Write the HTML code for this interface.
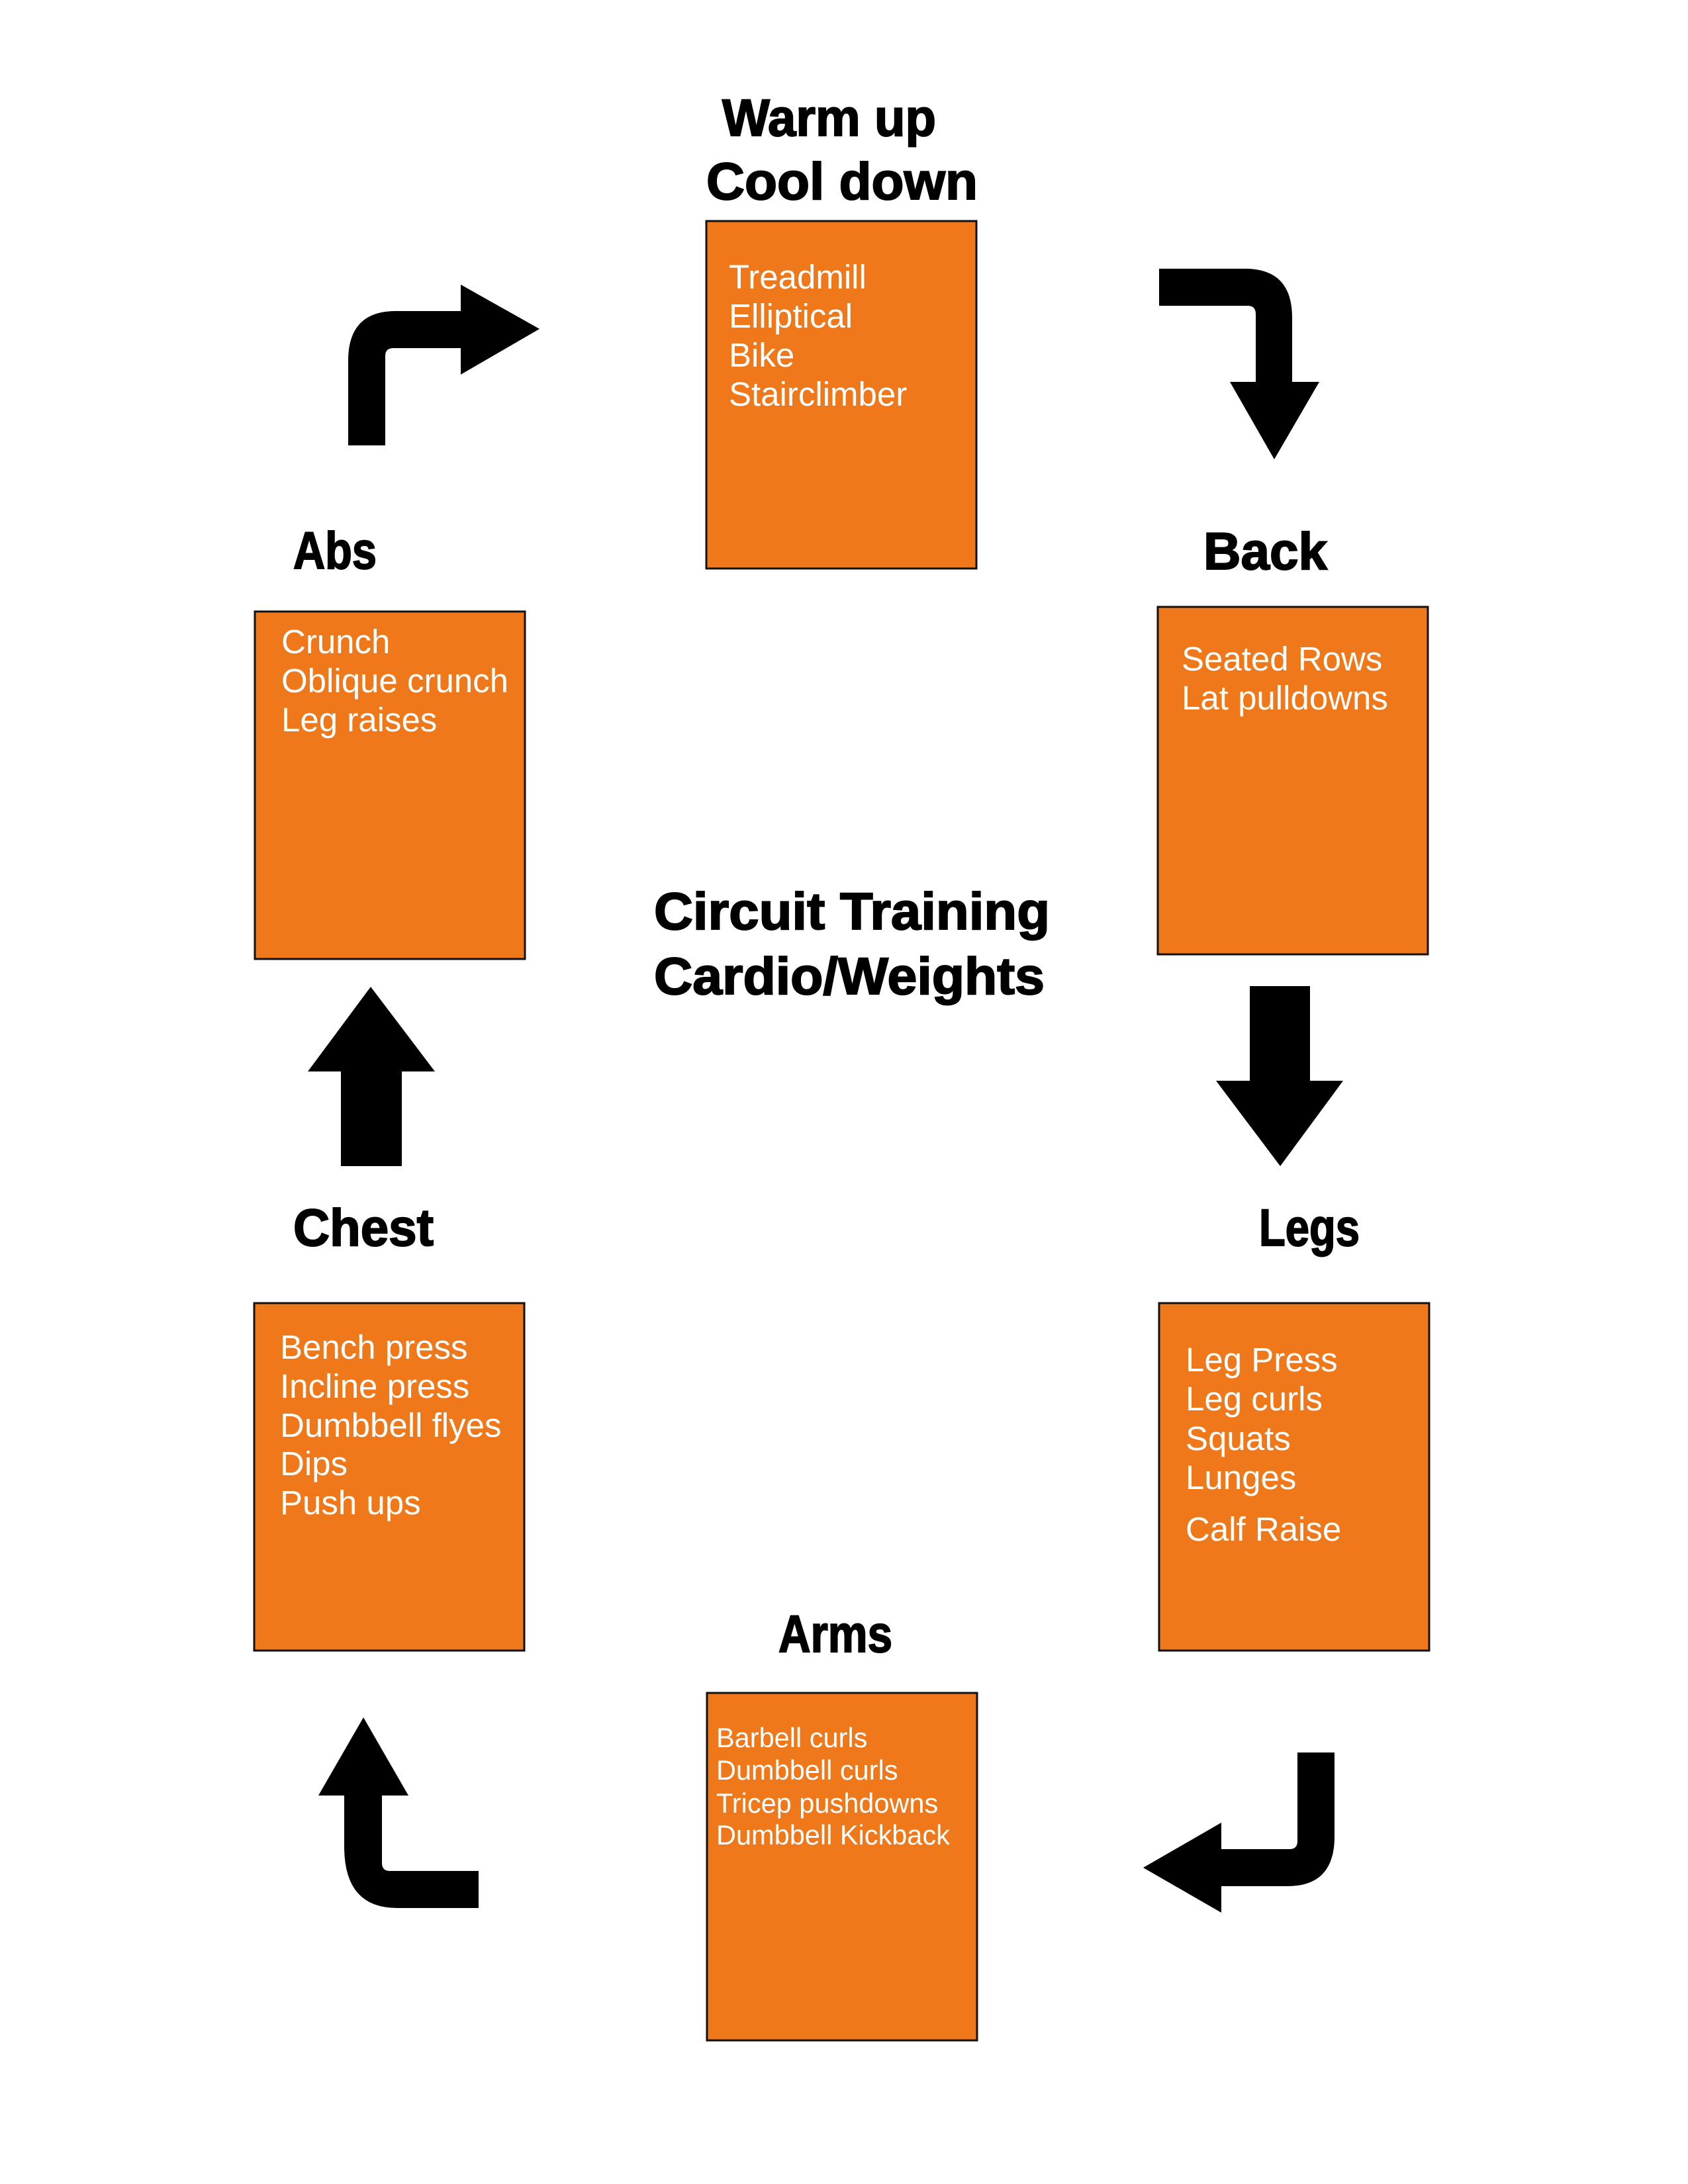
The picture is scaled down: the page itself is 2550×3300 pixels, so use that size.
<!DOCTYPE html>
<html><head><meta charset="utf-8"><style>
html,body{margin:0;padding:0;background:#fff;}
svg{display:block;}
.t{font-family:"Liberation Sans",Arial,sans-serif;font-weight:bold;font-size:79px;fill:#000;stroke:#000;stroke-width:2px;}
.b{font-family:"Liberation Sans",Arial,sans-serif;font-size:51px;fill:#fff;}
.s{font-family:"Liberation Sans",Arial,sans-serif;font-size:41.5px;fill:#fff;}
</style></head><body>
<svg width="2550" height="3300" viewBox="0 0 2550 3300" xmlns="http://www.w3.org/2000/svg">
<rect width="2550" height="3300" fill="#fff"/>
<g fill="#EF791A" stroke="#111" stroke-width="3">
<rect x="1067" y="334" width="408" height="525"/>
<rect x="385" y="924" width="408" height="525"/>
<rect x="1749" y="917" width="408" height="525"/>
<rect x="384" y="1969" width="408" height="525"/>
<rect x="1751" y="1969" width="408" height="525"/>
<rect x="1068" y="2558" width="408" height="525"/>
</g>
<g class="t">
<text x="1091" y="205" textLength="323" lengthAdjust="spacingAndGlyphs">Warm up</text>
<text x="1067" y="301" textLength="410" lengthAdjust="spacingAndGlyphs">Cool down</text>
<text x="443" y="859" textLength="126" lengthAdjust="spacingAndGlyphs">Abs</text>
<text x="1818" y="860" textLength="187" lengthAdjust="spacingAndGlyphs">Back</text>
<text x="988" y="1404" textLength="598" lengthAdjust="spacingAndGlyphs">Circuit Training</text>
<text x="988" y="1502" textLength="590" lengthAdjust="spacingAndGlyphs">Cardio/Weights</text>
<text x="443" y="1882" textLength="212" lengthAdjust="spacingAndGlyphs">Chest</text>
<text x="1902" y="1882" textLength="152" lengthAdjust="spacingAndGlyphs">Legs</text>
<text x="1176" y="2496" textLength="172" lengthAdjust="spacingAndGlyphs">Arms</text>
</g>
<g class="b">
<text x="1101" y="436">Treadmill</text>
<text x="1101" y="495">Elliptical</text>
<text x="1101" y="554">Bike</text>
<text x="1101" y="613">Stairclimber</text>
<text x="425" y="987">Crunch</text>
<text x="425" y="1046">Oblique crunch</text>
<text x="425" y="1105">Leg raises</text>
<text x="1785" y="1013">Seated Rows</text>
<text x="1785" y="1072">Lat pulldowns</text>
<text x="423" y="2053">Bench press</text>
<text x="423" y="2112">Incline press</text>
<text x="423" y="2171">Dumbbell flyes</text>
<text x="423" y="2229">Dips</text>
<text x="423" y="2288">Push ups</text>
<text x="1791" y="2072">Leg Press</text>
<text x="1791" y="2131">Leg curls</text>
<text x="1791" y="2191">Squats</text>
<text x="1791" y="2250">Lunges</text>
<text x="1791" y="2328">Calf Raise</text>
</g>
<g class="s">
<text x="1082" y="2640">Barbell curls</text>
<text x="1082" y="2689">Dumbbell curls</text>
<text x="1082" y="2739">Tricep pushdowns</text>
<text x="1082" y="2787">Dumbbell Kickback</text>
</g>
<g fill="#000">
<path d="M526,673 L526,545 Q526,470 598,470 L696,470 L696,430 L815,497 L696,566 L696,526 L594,526 Q582,526 582,538 L582,673 Z"/>
<path d="M1751,406 L1881,406 Q1952,406 1952,480 L1952,577 L1993,577 L1925,694 L1858,577 L1897,577 L1897,475 Q1897,462 1885,462 L1751,462 Z"/>
<path d="M1888,1490 H1979 V1633 H2029 L1934,1762 L1837,1633 H1888 Z"/>
<path d="M560,1491 L657,1619 H607 V1762 H515 V1619 H465 Z"/>
<path d="M1960,2648 H2016 V2775 Q2016,2850 1945,2850 H1845 V2890 L1727,2822 L1845,2754 V2794 H1948 Q1960,2794 1960,2782 Z"/>
<path d="M549,2595 L617,2713 H577 V2815 Q577,2827 589,2827 H723 V2883 H600 Q520,2883 520,2790 V2713 H481 Z"/>
</g>
</svg>
</body></html>
